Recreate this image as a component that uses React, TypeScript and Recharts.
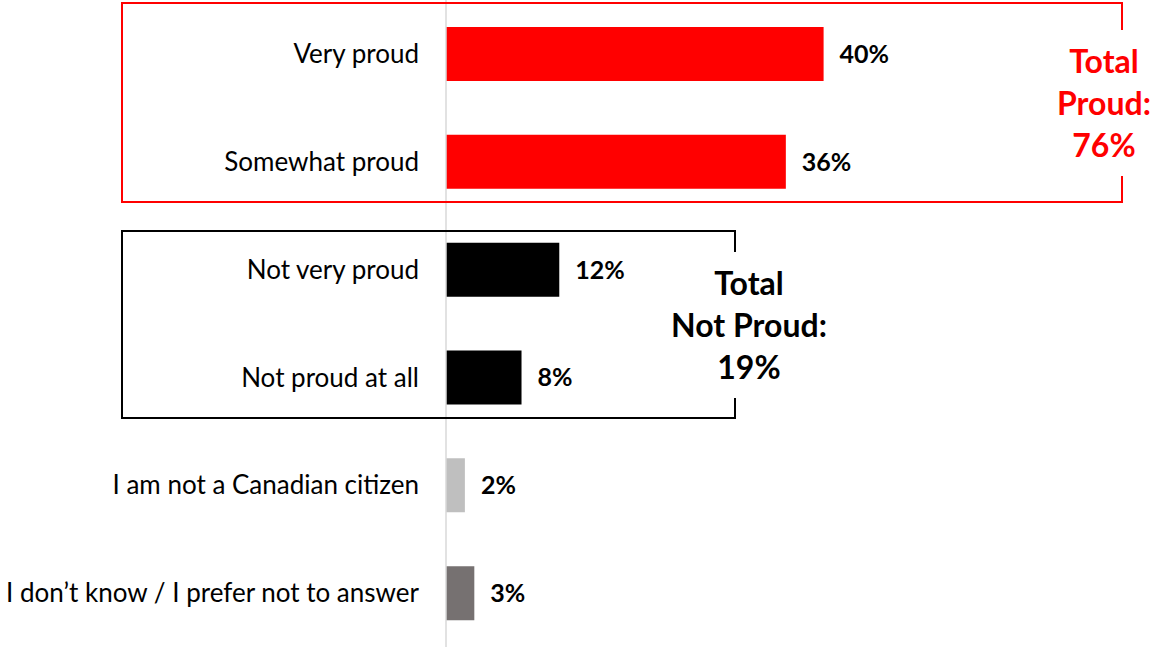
import { Bar, BarChart, LabelList, Rectangle, XAxis, YAxis } from "recharts";

const categories = [
  "Very proud",
  "Somewhat proud",
  "Not very proud",
  "Not proud at all",
  "I am not a Canadian citizen",
  "I don\u2019t know / I prefer not to answer",
];
const values = [40, 36, 12, 8, 2, 3];
const totalProud = 76;
const totalNotProud = 19;

// One fill per response, same order as categories.
const FILLS = ["#FF0000", "#FF0000", "#000000", "#000000", "#BFBFBF", "#767171"];

const FONT = "Lato, 'Open Sans', sans-serif";
const W = 1154;
const H = 647;

const data = categories.map((name, i) => ({ name, value: values[i] }));

// Bracket boxes with the total called out in the gap on their right edge.
function Brackets() {
  return (
    <svg
      width={W}
      height={H}
      style={{ position: "absolute", left: 0, top: 0, pointerEvents: "none" }}
      fontFamily={FONT}
    >
      <polyline
        points="1122,30 1122,3 122,3 122,202 1122,202 1122,176"
        fill="none"
        stroke="#FF0000"
        strokeWidth={2}
      />
      <polyline
        points="735,252 735,231 122,231 122,418 735,418 735,398"
        fill="none"
        stroke="#000000"
        strokeWidth={2}
      />
      <text textAnchor="middle" fontWeight={700} fontSize={32} fill="#FF0000">
        <tspan x={1104} y={73}>Total</tspan>
        <tspan x={1104} y={115}>Proud:</tspan>
        <tspan x={1104} y={157}>{totalProud}%</tspan>
      </text>
      <text textAnchor="middle" fontWeight={700} fontSize={32} fill="#000000">
        <tspan x={749} y={295}>Total</tspan>
        <tspan x={749} y={337}>Not Proud:</tspan>
        <tspan x={749} y={379}>{totalNotProud}%</tspan>
      </text>
    </svg>
  );
}

const ColoredBar = (props: any) => (
  <Rectangle
    x={props.x}
    y={props.y}
    width={props.width}
    height={props.height}
    fill={FILLS[props.index]}
  />
);

export default function App() {
  return (
    <div style={{ position: "absolute", left: 0, top: 0, width: W, height: H, background: "#fff" }}>
      <BarChart
        width={W}
        height={H}
        data={data}
        layout="vertical"
        margin={{ top: 0, right: 0, bottom: 0, left: 0 }}
      >
        <XAxis type="number" domain={[0, 75]} hide />
        <YAxis
          type="category"
          dataKey="name"
          width={446}
          tickSize={0}
          tickMargin={27}
          axisLine={{ stroke: "#D9D9D9", strokeWidth: 1.5 }}
          tick={{ fill: "#000", fontSize: 26, fontFamily: FONT }}
          interval={0}
        />
        <Bar dataKey="value" barSize={54} fill="#FF0000" shape={ColoredBar} isAnimationActive={false}>
          <LabelList
            dataKey="value"
            position="right"
            offset={16}
            formatter={(v: number) => `${v}%`}
            style={{ fill: "#000", fontSize: 25, fontWeight: 700, fontFamily: FONT }}
          />
        </Bar>
      </BarChart>
      <Brackets />
    </div>
  );
}
